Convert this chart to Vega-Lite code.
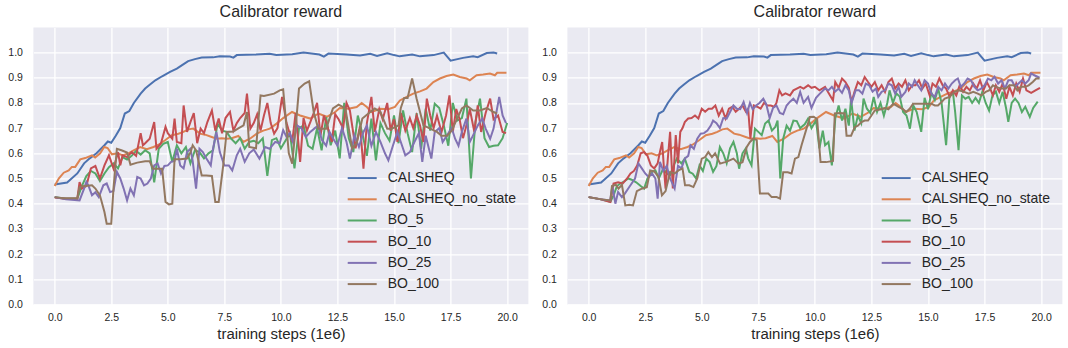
{
"$schema": "https://vega.github.io/schema/vega-lite/v6.json",
"padding": {"left": 7.4, "top": 4.4, "right": 5, "bottom": 5},
"background": "white",
"spacing": 39,
"bounds": "flush",
"config": {
  "view": {"fill": "#EAEAF2", "stroke": null},
  "axis": {"domain": false, "ticks": false, "tickSize": 0, "gridColor": "#FFFFFF", "gridWidth": 1.3, "gridOpacity": 1,
    "labelFont": "Liberation Sans", "labelFontSize": 10.5, "labelColor": "#262626",
    "titleFont": "Liberation Sans", "titleFontSize": 15, "titleColor": "#262626", "titleFontWeight": "normal"},
  "title": {"font": "Liberation Sans", "fontSize": 16, "fontWeight": "normal", "color": "#262626", "anchor": "middle", "offset": 7, "baseline": "alphabetic"},
  "legend": {"title": null, "padding": 0, "symbolType": "M-2,0H2", "symbolSize": 210, "symbolStrokeWidth": 2,
    "labelFont": "Liberation Sans", "labelFontSize": 14, "labelColor": "#262626", "labelOffset": 17, "rowPadding": 5.2}
},
"resolve": {"legend": {"color": "independent"}},
"datasets": {
"base": [
{"s":"CALSHEQ","x":0,"y":0.476},{"s":"CALSHEQ","x":0.55,"y":0.484},{"s":"CALSHEQ","x":1.0,"y":0.52},{"s":"CALSHEQ","x":1.3,"y":0.56},{"s":"CALSHEQ","x":1.55,"y":0.58},{"s":"CALSHEQ","x":1.85,"y":0.6},{"s":"CALSHEQ","x":2.2,"y":0.632},{"s":"CALSHEQ","x":2.35,"y":0.647},{"s":"CALSHEQ","x":2.5,"y":0.642},{"s":"CALSHEQ","x":2.7,"y":0.67},{"s":"CALSHEQ","x":2.9,"y":0.7},{"s":"CALSHEQ","x":3.1,"y":0.758},{"s":"CALSHEQ","x":3.3,"y":0.768},{"s":"CALSHEQ","x":3.5,"y":0.8},{"s":"CALSHEQ","x":3.8,"y":0.837},{"s":"CALSHEQ","x":4.0,"y":0.857},{"s":"CALSHEQ","x":4.2,"y":0.872},{"s":"CALSHEQ","x":4.45,"y":0.89},{"s":"CALSHEQ","x":4.75,"y":0.906},{"s":"CALSHEQ","x":5.1,"y":0.923},{"s":"CALSHEQ","x":5.4,"y":0.936},{"s":"CALSHEQ","x":5.7,"y":0.954},{"s":"CALSHEQ","x":5.9,"y":0.966},{"s":"CALSHEQ","x":6.2,"y":0.974},{"s":"CALSHEQ","x":6.5,"y":0.98},{"s":"CALSHEQ","x":7.0,"y":0.981},{"s":"CALSHEQ","x":7.3,"y":0.985},{"s":"CALSHEQ","x":7.75,"y":0.984},{"s":"CALSHEQ","x":7.9,"y":0.98},{"s":"CALSHEQ","x":8.05,"y":0.99},{"s":"CALSHEQ","x":8.9,"y":0.992},{"s":"CALSHEQ","x":9.5,"y":0.995},{"s":"CALSHEQ","x":9.8,"y":0.99},{"s":"CALSHEQ","x":10.5,"y":0.993},{"s":"CALSHEQ","x":11.0,"y":1.0},{"s":"CALSHEQ","x":11.7,"y":0.992},{"s":"CALSHEQ","x":11.9,"y":0.984},{"s":"CALSHEQ","x":12.1,"y":0.996},{"s":"CALSHEQ","x":12.9,"y":0.992},{"s":"CALSHEQ","x":13.5,"y":0.988},{"s":"CALSHEQ","x":13.95,"y":0.995},{"s":"CALSHEQ","x":14.25,"y":0.987},{"s":"CALSHEQ","x":14.7,"y":0.997},{"s":"CALSHEQ","x":15.0,"y":0.99},{"s":"CALSHEQ","x":15.25,"y":0.985},{"s":"CALSHEQ","x":15.8,"y":0.992},{"s":"CALSHEQ","x":16.15,"y":0.985},{"s":"CALSHEQ","x":16.75,"y":0.99},{"s":"CALSHEQ","x":17.2,"y":1.0},{"s":"CALSHEQ","x":17.5,"y":0.968},{"s":"CALSHEQ","x":18.05,"y":0.979},{"s":"CALSHEQ","x":18.5,"y":0.985},{"s":"CALSHEQ","x":18.7,"y":0.982},{"s":"CALSHEQ","x":19.1,"y":0.998},{"s":"CALSHEQ","x":19.4,"y":1.0},{"s":"CALSHEQ","x":19.56,"y":0.996},
{"s":"CALSHEQ_no_state","x":0,"y":0.47},{"s":"CALSHEQ_no_state","x":0.18,"y":0.5},{"s":"CALSHEQ_no_state","x":0.4,"y":0.523},{"s":"CALSHEQ_no_state","x":0.62,"y":0.532},{"s":"CALSHEQ_no_state","x":0.76,"y":0.546},{"s":"CALSHEQ_no_state","x":0.91,"y":0.546},{"s":"CALSHEQ_no_state","x":1.13,"y":0.576},{"s":"CALSHEQ_no_state","x":1.35,"y":0.581},{"s":"CALSHEQ_no_state","x":1.65,"y":0.592},{"s":"CALSHEQ_no_state","x":1.79,"y":0.583},{"s":"CALSHEQ_no_state","x":2.01,"y":0.6},{"s":"CALSHEQ_no_state","x":2.19,"y":0.625},{"s":"CALSHEQ_no_state","x":2.34,"y":0.621},{"s":"CALSHEQ_no_state","x":2.53,"y":0.596},{"s":"CALSHEQ_no_state","x":2.78,"y":0.6},{"s":"CALSHEQ_no_state","x":3.01,"y":0.592},{"s":"CALSHEQ_no_state","x":3.26,"y":0.6},{"s":"CALSHEQ_no_state","x":3.49,"y":0.612},{"s":"CALSHEQ_no_state","x":3.78,"y":0.625},{"s":"CALSHEQ_no_state","x":4.07,"y":0.616},{"s":"CALSHEQ_no_state","x":4.37,"y":0.625},{"s":"CALSHEQ_no_state","x":4.59,"y":0.634},{"s":"CALSHEQ_no_state","x":4.88,"y":0.652},{"s":"CALSHEQ_no_state","x":5.18,"y":0.672},{"s":"CALSHEQ_no_state","x":5.47,"y":0.678},{"s":"CALSHEQ_no_state","x":5.69,"y":0.685},{"s":"CALSHEQ_no_state","x":5.91,"y":0.695},{"s":"CALSHEQ_no_state","x":6.13,"y":0.698},{"s":"CALSHEQ_no_state","x":6.43,"y":0.678},{"s":"CALSHEQ_no_state","x":6.65,"y":0.674},{"s":"CALSHEQ_no_state","x":6.94,"y":0.665},{"s":"CALSHEQ_no_state","x":7.16,"y":0.658},{"s":"CALSHEQ_no_state","x":7.38,"y":0.66},{"s":"CALSHEQ_no_state","x":7.6,"y":0.658},{"s":"CALSHEQ_no_state","x":7.82,"y":0.66},{"s":"CALSHEQ_no_state","x":8.12,"y":0.669},{"s":"CALSHEQ_no_state","x":8.34,"y":0.645},{"s":"CALSHEQ_no_state","x":8.63,"y":0.658},{"s":"CALSHEQ_no_state","x":8.93,"y":0.678},{"s":"CALSHEQ_no_state","x":9.22,"y":0.69},{"s":"CALSHEQ_no_state","x":9.51,"y":0.698},{"s":"CALSHEQ_no_state","x":9.81,"y":0.718},{"s":"CALSHEQ_no_state","x":10.1,"y":0.74},{"s":"CALSHEQ_no_state","x":10.49,"y":0.764},{"s":"CALSHEQ_no_state","x":10.85,"y":0.75},{"s":"CALSHEQ_no_state","x":11.3,"y":0.738},{"s":"CALSHEQ_no_state","x":11.66,"y":0.758},{"s":"CALSHEQ_no_state","x":12.03,"y":0.745},{"s":"CALSHEQ_no_state","x":12.4,"y":0.764},{"s":"CALSHEQ_no_state","x":12.6,"y":0.78},{"s":"CALSHEQ_no_state","x":12.99,"y":0.777},{"s":"CALSHEQ_no_state","x":13.35,"y":0.784},{"s":"CALSHEQ_no_state","x":13.57,"y":0.8},{"s":"CALSHEQ_no_state","x":13.8,"y":0.784},{"s":"CALSHEQ_no_state","x":14.0,"y":0.764},{"s":"CALSHEQ_no_state","x":14.38,"y":0.777},{"s":"CALSHEQ_no_state","x":14.75,"y":0.775},{"s":"CALSHEQ_no_state","x":15.04,"y":0.784},{"s":"CALSHEQ_no_state","x":15.26,"y":0.81},{"s":"CALSHEQ_no_state","x":15.56,"y":0.824},{"s":"CALSHEQ_no_state","x":15.85,"y":0.837},{"s":"CALSHEQ_no_state","x":16.15,"y":0.846},{"s":"CALSHEQ_no_state","x":16.44,"y":0.857},{"s":"CALSHEQ_no_state","x":16.74,"y":0.883},{"s":"CALSHEQ_no_state","x":17.03,"y":0.897},{"s":"CALSHEQ_no_state","x":17.32,"y":0.907},{"s":"CALSHEQ_no_state","x":17.62,"y":0.913},{"s":"CALSHEQ_no_state","x":17.91,"y":0.903},{"s":"CALSHEQ_no_state","x":18.21,"y":0.897},{"s":"CALSHEQ_no_state","x":18.35,"y":0.89},{"s":"CALSHEQ_no_state","x":18.65,"y":0.91},{"s":"CALSHEQ_no_state","x":18.94,"y":0.913},{"s":"CALSHEQ_no_state","x":19.24,"y":0.917},{"s":"CALSHEQ_no_state","x":19.46,"y":0.91},{"s":"CALSHEQ_no_state","x":19.56,"y":0.92},{"s":"CALSHEQ_no_state","x":19.97,"y":0.92}
],
"left": [
{"s":"BO_5","x":0,"y":0.426},{"s":"BO_5","x":0.5,"y":0.42},{"s":"BO_5","x":1.0,"y":0.42},{"s":"BO_5","x":1.2,"y":0.47},{"s":"BO_5","x":1.4,"y":0.51},{"s":"BO_5","x":1.6,"y":0.53},{"s":"BO_5","x":1.8,"y":0.52},{"s":"BO_5","x":2.0,"y":0.49},{"s":"BO_5","x":2.2,"y":0.52},{"s":"BO_5","x":2.4,"y":0.545},{"s":"BO_5","x":2.6,"y":0.56},{"s":"BO_5","x":2.8,"y":0.54},{"s":"BO_5","x":3.0,"y":0.585},{"s":"BO_5","x":3.2,"y":0.575},{"s":"BO_5","x":3.4,"y":0.59},{"s":"BO_5","x":3.6,"y":0.61},{"s":"BO_5","x":3.8,"y":0.595},{"s":"BO_5","x":4.0,"y":0.612},{"s":"BO_5","x":4.2,"y":0.6},{"s":"BO_5","x":4.4,"y":0.485},{"s":"BO_5","x":4.6,"y":0.618},{"s":"BO_5","x":4.8,"y":0.638},{"s":"BO_5","x":5.0,"y":0.645},{"s":"BO_5","x":5.2,"y":0.566},{"s":"BO_5","x":5.4,"y":0.632},{"s":"BO_5","x":5.6,"y":0.6},{"s":"BO_5","x":5.8,"y":0.625},{"s":"BO_5","x":6.0,"y":0.56},{"s":"BO_5","x":6.2,"y":0.612},{"s":"BO_5","x":6.4,"y":0.605},{"s":"BO_5","x":6.6,"y":0.58},{"s":"BO_5","x":6.8,"y":0.6},{"s":"BO_5","x":7.0,"y":0.612},{"s":"BO_5","x":7.2,"y":0.718},{"s":"BO_5","x":7.4,"y":0.69},{"s":"BO_5","x":7.6,"y":0.685},{"s":"BO_5","x":7.8,"y":0.658},{"s":"BO_5","x":8.0,"y":0.64},{"s":"BO_5","x":8.2,"y":0.66},{"s":"BO_5","x":8.4,"y":0.618},{"s":"BO_5","x":8.6,"y":0.645},{"s":"BO_5","x":8.8,"y":0.65},{"s":"BO_5","x":9.0,"y":0.64},{"s":"BO_5","x":9.2,"y":0.66},{"s":"BO_5","x":9.4,"y":0.51},{"s":"BO_5","x":9.6,"y":0.652},{"s":"BO_5","x":9.8,"y":0.66},{"s":"BO_5","x":10.0,"y":0.62},{"s":"BO_5","x":10.2,"y":0.65},{"s":"BO_5","x":10.4,"y":0.68},{"s":"BO_5","x":10.6,"y":0.54},{"s":"BO_5","x":10.8,"y":0.7},{"s":"BO_5","x":11.0,"y":0.71},{"s":"BO_5","x":11.2,"y":0.63},{"s":"BO_5","x":11.4,"y":0.618},{"s":"BO_5","x":11.6,"y":0.7},{"s":"BO_5","x":11.8,"y":0.612},{"s":"BO_5","x":12.0,"y":0.744},{"s":"BO_5","x":12.2,"y":0.632},{"s":"BO_5","x":12.4,"y":0.69},{"s":"BO_5","x":12.6,"y":0.58},{"s":"BO_5","x":12.8,"y":0.8},{"s":"BO_5","x":13.0,"y":0.66},{"s":"BO_5","x":13.2,"y":0.605},{"s":"BO_5","x":13.4,"y":0.75},{"s":"BO_5","x":13.6,"y":0.68},{"s":"BO_5","x":13.8,"y":0.59},{"s":"BO_5","x":14.0,"y":0.738},{"s":"BO_5","x":14.2,"y":0.572},{"s":"BO_5","x":14.4,"y":0.72},{"s":"BO_5","x":14.6,"y":0.68},{"s":"BO_5","x":14.8,"y":0.65},{"s":"BO_5","x":15.0,"y":0.75},{"s":"BO_5","x":15.2,"y":0.64},{"s":"BO_5","x":15.4,"y":0.77},{"s":"BO_5","x":15.6,"y":0.68},{"s":"BO_5","x":15.8,"y":0.605},{"s":"BO_5","x":16.0,"y":0.76},{"s":"BO_5","x":16.2,"y":0.618},{"s":"BO_5","x":16.4,"y":0.777},{"s":"BO_5","x":16.6,"y":0.69},{"s":"BO_5","x":16.8,"y":0.797},{"s":"BO_5","x":17.0,"y":0.78},{"s":"BO_5","x":17.2,"y":0.71},{"s":"BO_5","x":17.4,"y":0.63},{"s":"BO_5","x":17.6,"y":0.8},{"s":"BO_5","x":17.8,"y":0.73},{"s":"BO_5","x":18.0,"y":0.74},{"s":"BO_5","x":18.2,"y":0.817},{"s":"BO_5","x":18.4,"y":0.5},{"s":"BO_5","x":18.6,"y":0.725},{"s":"BO_5","x":18.8,"y":0.817},{"s":"BO_5","x":19.0,"y":0.66},{"s":"BO_5","x":19.2,"y":0.625},{"s":"BO_5","x":19.4,"y":0.63},{"s":"BO_5","x":19.6,"y":0.632},{"s":"BO_5","x":19.8,"y":0.66},{"s":"BO_5","x":20.0,"y":0.72},
{"s":"BO_10","x":0,"y":0.424},{"s":"BO_10","x":0.5,"y":0.42},{"s":"BO_10","x":1.0,"y":0.42},{"s":"BO_10","x":1.1,"y":0.486},{"s":"BO_10","x":1.2,"y":0.46},{"s":"BO_10","x":1.4,"y":0.47},{"s":"BO_10","x":1.6,"y":0.54},{"s":"BO_10","x":1.8,"y":0.55},{"s":"BO_10","x":2.0,"y":0.5},{"s":"BO_10","x":2.2,"y":0.552},{"s":"BO_10","x":2.4,"y":0.592},{"s":"BO_10","x":2.6,"y":0.539},{"s":"BO_10","x":2.8,"y":0.605},{"s":"BO_10","x":2.9,"y":0.552},{"s":"BO_10","x":3.0,"y":0.592},{"s":"BO_10","x":3.2,"y":0.585},{"s":"BO_10","x":3.4,"y":0.605},{"s":"BO_10","x":3.6,"y":0.59},{"s":"BO_10","x":3.8,"y":0.68},{"s":"BO_10","x":3.9,"y":0.632},{"s":"BO_10","x":4.0,"y":0.64},{"s":"BO_10","x":4.2,"y":0.658},{"s":"BO_10","x":4.4,"y":0.724},{"s":"BO_10","x":4.5,"y":0.618},{"s":"BO_10","x":4.7,"y":0.64},{"s":"BO_10","x":4.9,"y":0.705},{"s":"BO_10","x":5.0,"y":0.68},{"s":"BO_10","x":5.2,"y":0.658},{"s":"BO_10","x":5.3,"y":0.738},{"s":"BO_10","x":5.4,"y":0.645},{"s":"BO_10","x":5.6,"y":0.64},{"s":"BO_10","x":5.7,"y":0.79},{"s":"BO_10","x":5.85,"y":0.685},{"s":"BO_10","x":6.0,"y":0.724},{"s":"BO_10","x":6.15,"y":0.76},{"s":"BO_10","x":6.3,"y":0.64},{"s":"BO_10","x":6.45,"y":0.698},{"s":"BO_10","x":6.6,"y":0.68},{"s":"BO_10","x":6.75,"y":0.724},{"s":"BO_10","x":6.95,"y":0.77},{"s":"BO_10","x":7.1,"y":0.69},{"s":"BO_10","x":7.25,"y":0.738},{"s":"BO_10","x":7.4,"y":0.68},{"s":"BO_10","x":7.55,"y":0.74},{"s":"BO_10","x":7.75,"y":0.764},{"s":"BO_10","x":7.9,"y":0.69},{"s":"BO_10","x":8.05,"y":0.72},{"s":"BO_10","x":8.2,"y":0.74},{"s":"BO_10","x":8.4,"y":0.76},{"s":"BO_10","x":8.5,"y":0.837},{"s":"BO_10","x":8.65,"y":0.698},{"s":"BO_10","x":8.8,"y":0.72},{"s":"BO_10","x":8.95,"y":0.755},{"s":"BO_10","x":9.1,"y":0.69},{"s":"BO_10","x":9.25,"y":0.75},{"s":"BO_10","x":9.4,"y":0.8},{"s":"BO_10","x":9.55,"y":0.72},{"s":"BO_10","x":9.7,"y":0.678},{"s":"BO_10","x":9.85,"y":0.7},{"s":"BO_10","x":10.05,"y":0.824},{"s":"BO_10","x":10.25,"y":0.72},{"s":"BO_10","x":10.5,"y":0.645},{"s":"BO_10","x":10.65,"y":0.76},{"s":"BO_10","x":10.85,"y":0.566},{"s":"BO_10","x":11.0,"y":0.74},{"s":"BO_10","x":11.15,"y":0.69},{"s":"BO_10","x":11.3,"y":0.724},{"s":"BO_10","x":11.45,"y":0.76},{"s":"BO_10","x":11.6,"y":0.8},{"s":"BO_10","x":11.75,"y":0.67},{"s":"BO_10","x":11.9,"y":0.75},{"s":"BO_10","x":12.05,"y":0.71},{"s":"BO_10","x":12.25,"y":0.645},{"s":"BO_10","x":12.4,"y":0.755},{"s":"BO_10","x":12.55,"y":0.735},{"s":"BO_10","x":12.75,"y":0.7},{"s":"BO_10","x":12.9,"y":0.8},{"s":"BO_10","x":13.05,"y":0.77},{"s":"BO_10","x":13.3,"y":0.62},{"s":"BO_10","x":13.5,"y":0.71},{"s":"BO_10","x":13.65,"y":0.539},{"s":"BO_10","x":13.8,"y":0.72},{"s":"BO_10","x":14.0,"y":0.824},{"s":"BO_10","x":14.15,"y":0.685},{"s":"BO_10","x":14.35,"y":0.775},{"s":"BO_10","x":14.5,"y":0.735},{"s":"BO_10","x":14.7,"y":0.8},{"s":"BO_10","x":14.85,"y":0.69},{"s":"BO_10","x":15.0,"y":0.735},{"s":"BO_10","x":15.15,"y":0.645},{"s":"BO_10","x":15.3,"y":0.76},{"s":"BO_10","x":15.5,"y":0.69},{"s":"BO_10","x":15.7,"y":0.74},{"s":"BO_10","x":15.85,"y":0.7},{"s":"BO_10","x":16.0,"y":0.75},{"s":"BO_10","x":16.15,"y":0.71},{"s":"BO_10","x":16.3,"y":0.645},{"s":"BO_10","x":16.45,"y":0.817},{"s":"BO_10","x":16.6,"y":0.75},{"s":"BO_10","x":16.75,"y":0.7},{"s":"BO_10","x":16.9,"y":0.75},{"s":"BO_10","x":17.1,"y":0.685},{"s":"BO_10","x":17.3,"y":0.75},{"s":"BO_10","x":17.45,"y":0.83},{"s":"BO_10","x":17.6,"y":0.685},{"s":"BO_10","x":17.75,"y":0.776},{"s":"BO_10","x":17.9,"y":0.735},{"s":"BO_10","x":18.05,"y":0.66},{"s":"BO_10","x":18.2,"y":0.71},{"s":"BO_10","x":18.35,"y":0.776},{"s":"BO_10","x":18.55,"y":0.685},{"s":"BO_10","x":18.7,"y":0.79},{"s":"BO_10","x":18.85,"y":0.685},{"s":"BO_10","x":19.05,"y":0.76},{"s":"BO_10","x":19.25,"y":0.817},{"s":"BO_10","x":19.4,"y":0.735},{"s":"BO_10","x":19.6,"y":0.75},{"s":"BO_10","x":19.8,"y":0.685},{"s":"BO_10","x":19.95,"y":0.68},
{"s":"BO_25","x":0,"y":0.426},{"s":"BO_25","x":0.5,"y":0.418},{"s":"BO_25","x":1.1,"y":0.413},{"s":"BO_25","x":1.3,"y":0.46},{"s":"BO_25","x":1.4,"y":0.486},{"s":"BO_25","x":1.5,"y":0.47},{"s":"BO_25","x":1.65,"y":0.433},{"s":"BO_25","x":1.8,"y":0.445},{"s":"BO_25","x":1.95,"y":0.426},{"s":"BO_25","x":2.15,"y":0.473},{"s":"BO_25","x":2.3,"y":0.48},{"s":"BO_25","x":2.45,"y":0.446},{"s":"BO_25","x":2.6,"y":0.45},{"s":"BO_25","x":2.75,"y":0.526},{"s":"BO_25","x":2.9,"y":0.5},{"s":"BO_25","x":3.05,"y":0.46},{"s":"BO_25","x":3.2,"y":0.413},{"s":"BO_25","x":3.35,"y":0.46},{"s":"BO_25","x":3.5,"y":0.433},{"s":"BO_25","x":3.65,"y":0.506},{"s":"BO_25","x":3.8,"y":0.5},{"s":"BO_25","x":3.95,"y":0.473},{"s":"BO_25","x":4.1,"y":0.48},{"s":"BO_25","x":4.25,"y":0.5},{"s":"BO_25","x":4.4,"y":0.552},{"s":"BO_25","x":4.55,"y":0.56},{"s":"BO_25","x":4.7,"y":0.52},{"s":"BO_25","x":4.85,"y":0.55},{"s":"BO_25","x":5.0,"y":0.552},{"s":"BO_25","x":5.15,"y":0.566},{"s":"BO_25","x":5.3,"y":0.57},{"s":"BO_25","x":5.4,"y":0.618},{"s":"BO_25","x":5.55,"y":0.552},{"s":"BO_25","x":5.7,"y":0.54},{"s":"BO_25","x":5.85,"y":0.605},{"s":"BO_25","x":6.0,"y":0.618},{"s":"BO_25","x":6.1,"y":0.57},{"s":"BO_25","x":6.25,"y":0.46},{"s":"BO_25","x":6.4,"y":0.618},{"s":"BO_25","x":6.55,"y":0.605},{"s":"BO_25","x":6.7,"y":0.58},{"s":"BO_25","x":6.9,"y":0.552},{"s":"BO_25","x":7.0,"y":0.618},{"s":"BO_25","x":7.15,"y":0.685},{"s":"BO_25","x":7.3,"y":0.605},{"s":"BO_25","x":7.5,"y":0.552},{"s":"BO_25","x":7.7,"y":0.552},{"s":"BO_25","x":7.85,"y":0.532},{"s":"BO_25","x":8.05,"y":0.592},{"s":"BO_25","x":8.2,"y":0.618},{"s":"BO_25","x":8.4,"y":0.566},{"s":"BO_25","x":8.6,"y":0.6},{"s":"BO_25","x":8.8,"y":0.615},{"s":"BO_25","x":9.05,"y":0.579},{"s":"BO_25","x":9.3,"y":0.625},{"s":"BO_25","x":9.5,"y":0.618},{"s":"BO_25","x":9.75,"y":0.645},{"s":"BO_25","x":9.95,"y":0.64},{"s":"BO_25","x":10.1,"y":0.692},{"s":"BO_25","x":10.25,"y":0.665},{"s":"BO_25","x":10.4,"y":0.68},{"s":"BO_25","x":10.55,"y":0.64},{"s":"BO_25","x":10.7,"y":0.712},{"s":"BO_25","x":10.9,"y":0.7},{"s":"BO_25","x":11.1,"y":0.665},{"s":"BO_25","x":11.3,"y":0.685},{"s":"BO_25","x":11.5,"y":0.7},{"s":"BO_25","x":11.65,"y":0.71},{"s":"BO_25","x":11.8,"y":0.655},{"s":"BO_25","x":12.0,"y":0.63},{"s":"BO_25","x":12.15,"y":0.685},{"s":"BO_25","x":12.3,"y":0.66},{"s":"BO_25","x":12.5,"y":0.63},{"s":"BO_25","x":12.7,"y":0.7},{"s":"BO_25","x":12.9,"y":0.645},{"s":"BO_25","x":13.05,"y":0.579},{"s":"BO_25","x":13.25,"y":0.672},{"s":"BO_25","x":13.45,"y":0.625},{"s":"BO_25","x":13.65,"y":0.685},{"s":"BO_25","x":13.8,"y":0.71},{"s":"BO_25","x":14.0,"y":0.63},{"s":"BO_25","x":14.2,"y":0.685},{"s":"BO_25","x":14.4,"y":0.645},{"s":"BO_25","x":14.6,"y":0.6},{"s":"BO_25","x":14.75,"y":0.572},{"s":"BO_25","x":14.95,"y":0.63},{"s":"BO_25","x":15.15,"y":0.685},{"s":"BO_25","x":15.3,"y":0.645},{"s":"BO_25","x":15.5,"y":0.592},{"s":"BO_25","x":15.7,"y":0.605},{"s":"BO_25","x":15.9,"y":0.645},{"s":"BO_25","x":16.1,"y":0.68},{"s":"BO_25","x":16.25,"y":0.566},{"s":"BO_25","x":16.4,"y":0.67},{"s":"BO_25","x":16.65,"y":0.579},{"s":"BO_25","x":16.8,"y":0.685},{"s":"BO_25","x":17.0,"y":0.7},{"s":"BO_25","x":17.15,"y":0.645},{"s":"BO_25","x":17.35,"y":0.672},{"s":"BO_25","x":17.55,"y":0.7},{"s":"BO_25","x":17.7,"y":0.658},{"s":"BO_25","x":17.85,"y":0.63},{"s":"BO_25","x":18.0,"y":0.685},{"s":"BO_25","x":18.2,"y":0.738},{"s":"BO_25","x":18.35,"y":0.645},{"s":"BO_25","x":18.5,"y":0.672},{"s":"BO_25","x":18.7,"y":0.71},{"s":"BO_25","x":18.9,"y":0.738},{"s":"BO_25","x":19.05,"y":0.698},{"s":"BO_25","x":19.25,"y":0.658},{"s":"BO_25","x":19.4,"y":0.698},{"s":"BO_25","x":19.5,"y":0.75},{"s":"BO_25","x":19.65,"y":0.824},{"s":"BO_25","x":19.8,"y":0.75},{"s":"BO_25","x":19.95,"y":0.72},
{"s":"BO_100","x":0,"y":0.426},{"s":"BO_100","x":0.4,"y":0.422},{"s":"BO_100","x":1.0,"y":0.422},{"s":"BO_100","x":1.1,"y":0.466},{"s":"BO_100","x":1.3,"y":0.47},{"s":"BO_100","x":1.65,"y":0.473},{"s":"BO_100","x":1.8,"y":0.46},{"s":"BO_100","x":2.0,"y":0.433},{"s":"BO_100","x":2.2,"y":0.367},{"s":"BO_100","x":2.3,"y":0.32},{"s":"BO_100","x":2.5,"y":0.32},{"s":"BO_100","x":2.6,"y":0.46},{"s":"BO_100","x":2.75,"y":0.618},{"s":"BO_100","x":2.95,"y":0.612},{"s":"BO_100","x":3.2,"y":0.603},{"s":"BO_100","x":3.35,"y":0.555},{"s":"BO_100","x":3.65,"y":0.563},{"s":"BO_100","x":4.0,"y":0.568},{"s":"BO_100","x":4.2,"y":0.568},{"s":"BO_100","x":4.35,"y":0.539},{"s":"BO_100","x":4.75,"y":0.539},{"s":"BO_100","x":4.9,"y":0.407},{"s":"BO_100","x":5.05,"y":0.397},{"s":"BO_100","x":5.2,"y":0.4},{"s":"BO_100","x":5.3,"y":0.576},{"s":"BO_100","x":5.55,"y":0.576},{"s":"BO_100","x":5.85,"y":0.579},{"s":"BO_100","x":6.0,"y":0.603},{"s":"BO_100","x":6.1,"y":0.632},{"s":"BO_100","x":6.25,"y":0.612},{"s":"BO_100","x":6.5,"y":0.512},{"s":"BO_100","x":6.7,"y":0.512},{"s":"BO_100","x":6.95,"y":0.51},{"s":"BO_100","x":7.1,"y":0.407},{"s":"BO_100","x":7.25,"y":0.407},{"s":"BO_100","x":7.45,"y":0.552},{"s":"BO_100","x":7.6,"y":0.685},{"s":"BO_100","x":7.9,"y":0.687},{"s":"BO_100","x":8.1,"y":0.698},{"s":"BO_100","x":8.35,"y":0.711},{"s":"BO_100","x":8.5,"y":0.764},{"s":"BO_100","x":8.6,"y":0.625},{"s":"BO_100","x":8.9,"y":0.62},{"s":"BO_100","x":9.1,"y":0.83},{"s":"BO_100","x":9.25,"y":0.828},{"s":"BO_100","x":9.7,"y":0.837},{"s":"BO_100","x":9.95,"y":0.85},{"s":"BO_100","x":10.1,"y":0.854},{"s":"BO_100","x":10.35,"y":0.6},{"s":"BO_100","x":10.5,"y":0.559},{"s":"BO_100","x":10.65,"y":0.7},{"s":"BO_100","x":10.8,"y":0.857},{"s":"BO_100","x":11.05,"y":0.877},{"s":"BO_100","x":11.25,"y":0.886},{"s":"BO_100","x":11.45,"y":0.764},{"s":"BO_100","x":11.65,"y":0.698},{"s":"BO_100","x":12.0,"y":0.698},{"s":"BO_100","x":12.3,"y":0.778},{"s":"BO_100","x":12.55,"y":0.793},{"s":"BO_100","x":12.85,"y":0.778},{"s":"BO_100","x":13.15,"y":0.619},{"s":"BO_100","x":13.35,"y":0.64},{"s":"BO_100","x":13.6,"y":0.738},{"s":"BO_100","x":13.95,"y":0.764},{"s":"BO_100","x":14.15,"y":0.778},{"s":"BO_100","x":14.4,"y":0.764},{"s":"BO_100","x":14.7,"y":0.698},{"s":"BO_100","x":14.9,"y":0.698},{"s":"BO_100","x":15.2,"y":0.711},{"s":"BO_100","x":15.3,"y":0.78},{"s":"BO_100","x":15.45,"y":0.82},{"s":"BO_100","x":15.6,"y":0.82},{"s":"BO_100","x":15.8,"y":0.897},{"s":"BO_100","x":16.0,"y":0.817},{"s":"BO_100","x":16.3,"y":0.711},{"s":"BO_100","x":16.6,"y":0.698},{"s":"BO_100","x":16.9,"y":0.685},{"s":"BO_100","x":17.1,"y":0.67},{"s":"BO_100","x":17.35,"y":0.67},{"s":"BO_100","x":17.55,"y":0.69},{"s":"BO_100","x":17.75,"y":0.73},{"s":"BO_100","x":18.0,"y":0.778},{"s":"BO_100","x":18.2,"y":0.79},{"s":"BO_100","x":18.5,"y":0.77},{"s":"BO_100","x":18.8,"y":0.77},{"s":"BO_100","x":19.1,"y":0.78},{"s":"BO_100","x":19.4,"y":0.764},{"s":"BO_100","x":19.55,"y":0.758}
],
"right": [
{"s":"BO_5","x":0,"y":0.426},{"s":"BO_5","x":0.5,"y":0.418},{"s":"BO_5","x":0.96,"y":0.407},{"s":"BO_5","x":1.1,"y":0.433},{"s":"BO_5","x":1.25,"y":0.47},{"s":"BO_5","x":1.4,"y":0.48},{"s":"BO_5","x":1.6,"y":0.49},{"s":"BO_5","x":1.75,"y":0.5},{"s":"BO_5","x":1.9,"y":0.495},{"s":"BO_5","x":2.1,"y":0.485},{"s":"BO_5","x":2.3,"y":0.47},{"s":"BO_5","x":2.45,"y":0.46},{"s":"BO_5","x":2.6,"y":0.5},{"s":"BO_5","x":2.8,"y":0.526},{"s":"BO_5","x":2.95,"y":0.532},{"s":"BO_5","x":3.1,"y":0.5},{"s":"BO_5","x":3.3,"y":0.54},{"s":"BO_5","x":3.45,"y":0.52},{"s":"BO_5","x":3.6,"y":0.513},{"s":"BO_5","x":3.75,"y":0.55},{"s":"BO_5","x":3.9,"y":0.579},{"s":"BO_5","x":4.1,"y":0.56},{"s":"BO_5","x":4.25,"y":0.579},{"s":"BO_5","x":4.45,"y":0.526},{"s":"BO_5","x":4.6,"y":0.519},{"s":"BO_5","x":4.75,"y":0.5},{"s":"BO_5","x":4.9,"y":0.552},{"s":"BO_5","x":5.05,"y":0.53},{"s":"BO_5","x":5.2,"y":0.579},{"s":"BO_5","x":5.35,"y":0.565},{"s":"BO_5","x":5.5,"y":0.526},{"s":"BO_5","x":5.65,"y":0.55},{"s":"BO_5","x":5.8,"y":0.625},{"s":"BO_5","x":5.95,"y":0.6},{"s":"BO_5","x":6.1,"y":0.56},{"s":"BO_5","x":6.25,"y":0.62},{"s":"BO_5","x":6.4,"y":0.645},{"s":"BO_5","x":6.55,"y":0.6},{"s":"BO_5","x":6.65,"y":0.539},{"s":"BO_5","x":6.8,"y":0.6},{"s":"BO_5","x":6.95,"y":0.62},{"s":"BO_5","x":7.05,"y":0.58},{"s":"BO_5","x":7.2,"y":0.552},{"s":"BO_5","x":7.35,"y":0.698},{"s":"BO_5","x":7.5,"y":0.685},{"s":"BO_5","x":7.65,"y":0.672},{"s":"BO_5","x":7.8,"y":0.718},{"s":"BO_5","x":7.95,"y":0.73},{"s":"BO_5","x":8.1,"y":0.69},{"s":"BO_5","x":8.25,"y":0.705},{"s":"BO_5","x":8.35,"y":0.73},{"s":"BO_5","x":8.47,"y":0.5},{"s":"BO_5","x":8.6,"y":0.658},{"s":"BO_5","x":8.75,"y":0.71},{"s":"BO_5","x":8.9,"y":0.69},{"s":"BO_5","x":9.05,"y":0.73},{"s":"BO_5","x":9.2,"y":0.728},{"s":"BO_5","x":9.35,"y":0.7},{"s":"BO_5","x":9.55,"y":0.715},{"s":"BO_5","x":9.7,"y":0.738},{"s":"BO_5","x":9.85,"y":0.7},{"s":"BO_5","x":10.05,"y":0.73},{"s":"BO_5","x":10.2,"y":0.62},{"s":"BO_5","x":10.35,"y":0.69},{"s":"BO_5","x":10.45,"y":0.632},{"s":"BO_5","x":10.6,"y":0.645},{"s":"BO_5","x":10.75,"y":0.552},{"s":"BO_5","x":10.9,"y":0.738},{"s":"BO_5","x":11.05,"y":0.79},{"s":"BO_5","x":11.2,"y":0.73},{"s":"BO_5","x":11.35,"y":0.777},{"s":"BO_5","x":11.5,"y":0.71},{"s":"BO_5","x":11.6,"y":0.817},{"s":"BO_5","x":11.75,"y":0.69},{"s":"BO_5","x":11.9,"y":0.75},{"s":"BO_5","x":12.05,"y":0.72},{"s":"BO_5","x":12.15,"y":0.817},{"s":"BO_5","x":12.3,"y":0.777},{"s":"BO_5","x":12.45,"y":0.76},{"s":"BO_5","x":12.6,"y":0.824},{"s":"BO_5","x":12.75,"y":0.765},{"s":"BO_5","x":12.9,"y":0.8},{"s":"BO_5","x":13.05,"y":0.75},{"s":"BO_5","x":13.2,"y":0.8},{"s":"BO_5","x":13.3,"y":0.85},{"s":"BO_5","x":13.45,"y":0.8},{"s":"BO_5","x":13.6,"y":0.838},{"s":"BO_5","x":13.75,"y":0.825},{"s":"BO_5","x":13.9,"y":0.764},{"s":"BO_5","x":14.05,"y":0.75},{"s":"BO_5","x":14.2,"y":0.698},{"s":"BO_5","x":14.35,"y":0.79},{"s":"BO_5","x":14.5,"y":0.764},{"s":"BO_5","x":14.7,"y":0.685},{"s":"BO_5","x":14.85,"y":0.82},{"s":"BO_5","x":15.0,"y":0.775},{"s":"BO_5","x":15.15,"y":0.84},{"s":"BO_5","x":15.3,"y":0.812},{"s":"BO_5","x":15.45,"y":0.856},{"s":"BO_5","x":15.6,"y":0.8},{"s":"BO_5","x":15.8,"y":0.632},{"s":"BO_5","x":15.95,"y":0.83},{"s":"BO_5","x":16.1,"y":0.844},{"s":"BO_5","x":16.2,"y":0.764},{"s":"BO_5","x":16.35,"y":0.612},{"s":"BO_5","x":16.5,"y":0.83},{"s":"BO_5","x":16.65,"y":0.817},{"s":"BO_5","x":16.8,"y":0.824},{"s":"BO_5","x":16.95,"y":0.8},{"s":"BO_5","x":17.1,"y":0.82},{"s":"BO_5","x":17.25,"y":0.8},{"s":"BO_5","x":17.4,"y":0.844},{"s":"BO_5","x":17.55,"y":0.8},{"s":"BO_5","x":17.7,"y":0.77},{"s":"BO_5","x":17.85,"y":0.83},{"s":"BO_5","x":18.0,"y":0.845},{"s":"BO_5","x":18.15,"y":0.8},{"s":"BO_5","x":18.3,"y":0.844},{"s":"BO_5","x":18.45,"y":0.78},{"s":"BO_5","x":18.55,"y":0.725},{"s":"BO_5","x":18.7,"y":0.8},{"s":"BO_5","x":18.85,"y":0.817},{"s":"BO_5","x":19.0,"y":0.8},{"s":"BO_5","x":19.15,"y":0.764},{"s":"BO_5","x":19.3,"y":0.785},{"s":"BO_5","x":19.5,"y":0.745},{"s":"BO_5","x":19.65,"y":0.78},{"s":"BO_5","x":19.85,"y":0.805},
{"s":"BO_10","x":0,"y":0.426},{"s":"BO_10","x":0.5,"y":0.418},{"s":"BO_10","x":0.96,"y":0.407},{"s":"BO_10","x":1.1,"y":0.48},{"s":"BO_10","x":1.3,"y":0.485},{"s":"BO_10","x":1.5,"y":0.48},{"s":"BO_10","x":1.7,"y":0.5},{"s":"BO_10","x":1.85,"y":0.52},{"s":"BO_10","x":2.0,"y":0.53},{"s":"BO_10","x":2.15,"y":0.552},{"s":"BO_10","x":2.3,"y":0.6},{"s":"BO_10","x":2.45,"y":0.605},{"s":"BO_10","x":2.6,"y":0.59},{"s":"BO_10","x":2.75,"y":0.552},{"s":"BO_10","x":2.9,"y":0.54},{"s":"BO_10","x":3.05,"y":0.56},{"s":"BO_10","x":3.15,"y":0.605},{"s":"BO_10","x":3.25,"y":0.645},{"s":"BO_10","x":3.32,"y":0.55},{"s":"BO_10","x":3.4,"y":0.46},{"s":"BO_10","x":3.5,"y":0.58},{"s":"BO_10","x":3.6,"y":0.685},{"s":"BO_10","x":3.72,"y":0.46},{"s":"BO_10","x":3.85,"y":0.672},{"s":"BO_10","x":3.95,"y":0.56},{"s":"BO_10","x":4.05,"y":0.685},{"s":"BO_10","x":4.15,"y":0.7},{"s":"BO_10","x":4.25,"y":0.724},{"s":"BO_10","x":4.4,"y":0.738},{"s":"BO_10","x":4.55,"y":0.74},{"s":"BO_10","x":4.7,"y":0.75},{"s":"BO_10","x":4.85,"y":0.738},{"s":"BO_10","x":5.0,"y":0.777},{"s":"BO_10","x":5.15,"y":0.765},{"s":"BO_10","x":5.3,"y":0.777},{"s":"BO_10","x":5.45,"y":0.777},{"s":"BO_10","x":5.6,"y":0.79},{"s":"BO_10","x":5.75,"y":0.75},{"s":"BO_10","x":5.9,"y":0.777},{"s":"BO_10","x":6.05,"y":0.738},{"s":"BO_10","x":6.2,"y":0.777},{"s":"BO_10","x":6.35,"y":0.785},{"s":"BO_10","x":6.5,"y":0.765},{"s":"BO_10","x":6.65,"y":0.777},{"s":"BO_10","x":6.8,"y":0.79},{"s":"BO_10","x":6.95,"y":0.765},{"s":"BO_10","x":7.05,"y":0.777},{"s":"BO_10","x":7.15,"y":0.658},{"s":"BO_10","x":7.3,"y":0.79},{"s":"BO_10","x":7.45,"y":0.785},{"s":"BO_10","x":7.6,"y":0.777},{"s":"BO_10","x":7.75,"y":0.8},{"s":"BO_10","x":7.9,"y":0.79},{"s":"BO_10","x":8.05,"y":0.79},{"s":"BO_10","x":8.2,"y":0.785},{"s":"BO_10","x":8.3,"y":0.8},{"s":"BO_10","x":8.43,"y":0.85},{"s":"BO_10","x":8.55,"y":0.83},{"s":"BO_10","x":8.7,"y":0.838},{"s":"BO_10","x":8.9,"y":0.83},{"s":"BO_10","x":9.05,"y":0.85},{"s":"BO_10","x":9.2,"y":0.857},{"s":"BO_10","x":9.35,"y":0.864},{"s":"BO_10","x":9.5,"y":0.857},{"s":"BO_10","x":9.7,"y":0.87},{"s":"BO_10","x":9.85,"y":0.86},{"s":"BO_10","x":10.0,"y":0.864},{"s":"BO_10","x":10.2,"y":0.85},{"s":"BO_10","x":10.45,"y":0.864},{"s":"BO_10","x":10.6,"y":0.84},{"s":"BO_10","x":10.8,"y":0.81},{"s":"BO_10","x":10.9,"y":0.883},{"s":"BO_10","x":11.05,"y":0.86},{"s":"BO_10","x":11.2,"y":0.897},{"s":"BO_10","x":11.35,"y":0.883},{"s":"BO_10","x":11.5,"y":0.86},{"s":"BO_10","x":11.62,"y":0.804},{"s":"BO_10","x":11.75,"y":0.844},{"s":"BO_10","x":11.9,"y":0.883},{"s":"BO_10","x":12.05,"y":0.87},{"s":"BO_10","x":12.2,"y":0.903},{"s":"BO_10","x":12.35,"y":0.883},{"s":"BO_10","x":12.5,"y":0.864},{"s":"BO_10","x":12.65,"y":0.883},{"s":"BO_10","x":12.8,"y":0.85},{"s":"BO_10","x":12.95,"y":0.87},{"s":"BO_10","x":13.1,"y":0.844},{"s":"BO_10","x":13.25,"y":0.883},{"s":"BO_10","x":13.4,"y":0.897},{"s":"BO_10","x":13.55,"y":0.857},{"s":"BO_10","x":13.7,"y":0.877},{"s":"BO_10","x":13.85,"y":0.864},{"s":"BO_10","x":14.0,"y":0.89},{"s":"BO_10","x":14.15,"y":0.85},{"s":"BO_10","x":14.3,"y":0.87},{"s":"BO_10","x":14.45,"y":0.87},{"s":"BO_10","x":14.6,"y":0.89},{"s":"BO_10","x":14.75,"y":0.857},{"s":"BO_10","x":14.9,"y":0.877},{"s":"BO_10","x":15.07,"y":0.83},{"s":"BO_10","x":15.2,"y":0.877},{"s":"BO_10","x":15.35,"y":0.864},{"s":"BO_10","x":15.5,"y":0.897},{"s":"BO_10","x":15.65,"y":0.87},{"s":"BO_10","x":15.8,"y":0.857},{"s":"BO_10","x":15.96,"y":0.824},{"s":"BO_10","x":16.1,"y":0.85},{"s":"BO_10","x":16.25,"y":0.83},{"s":"BO_10","x":16.4,"y":0.87},{"s":"BO_10","x":16.55,"y":0.844},{"s":"BO_10","x":16.7,"y":0.864},{"s":"BO_10","x":16.85,"y":0.85},{"s":"BO_10","x":17.0,"y":0.877},{"s":"BO_10","x":17.15,"y":0.857},{"s":"BO_10","x":17.3,"y":0.89},{"s":"BO_10","x":17.45,"y":0.85},{"s":"BO_10","x":17.6,"y":0.883},{"s":"BO_10","x":17.75,"y":0.857},{"s":"BO_10","x":17.87,"y":0.83},{"s":"BO_10","x":18.0,"y":0.87},{"s":"BO_10","x":18.15,"y":0.844},{"s":"BO_10","x":18.3,"y":0.877},{"s":"BO_10","x":18.46,"y":0.817},{"s":"BO_10","x":18.6,"y":0.864},{"s":"BO_10","x":18.75,"y":0.83},{"s":"BO_10","x":18.9,"y":0.877},{"s":"BO_10","x":19.05,"y":0.844},{"s":"BO_10","x":19.2,"y":0.897},{"s":"BO_10","x":19.35,"y":0.85},{"s":"BO_10","x":19.56,"y":0.84},{"s":"BO_10","x":19.75,"y":0.85},{"s":"BO_10","x":19.95,"y":0.86},
{"s":"BO_25","x":0,"y":0.426},{"s":"BO_25","x":0.5,"y":0.418},{"s":"BO_25","x":0.95,"y":0.413},{"s":"BO_25","x":1.05,"y":0.47},{"s":"BO_25","x":1.18,"y":0.4},{"s":"BO_25","x":1.3,"y":0.446},{"s":"BO_25","x":1.47,"y":0.426},{"s":"BO_25","x":1.6,"y":0.44},{"s":"BO_25","x":1.75,"y":0.46},{"s":"BO_25","x":1.9,"y":0.48},{"s":"BO_25","x":2.05,"y":0.5},{"s":"BO_25","x":2.2,"y":0.56},{"s":"BO_25","x":2.35,"y":0.54},{"s":"BO_25","x":2.5,"y":0.52},{"s":"BO_25","x":2.65,"y":0.506},{"s":"BO_25","x":2.8,"y":0.52},{"s":"BO_25","x":2.95,"y":0.5},{"s":"BO_25","x":3.05,"y":0.42},{"s":"BO_25","x":3.15,"y":0.566},{"s":"BO_25","x":3.3,"y":0.53},{"s":"BO_25","x":3.45,"y":0.55},{"s":"BO_25","x":3.6,"y":0.5},{"s":"BO_25","x":3.8,"y":0.46},{"s":"BO_25","x":3.95,"y":0.55},{"s":"BO_25","x":4.1,"y":0.54},{"s":"BO_25","x":4.25,"y":0.579},{"s":"BO_25","x":4.4,"y":0.59},{"s":"BO_25","x":4.5,"y":0.632},{"s":"BO_25","x":4.65,"y":0.618},{"s":"BO_25","x":4.8,"y":0.658},{"s":"BO_25","x":4.95,"y":0.678},{"s":"BO_25","x":5.1,"y":0.68},{"s":"BO_25","x":5.25,"y":0.69},{"s":"BO_25","x":5.4,"y":0.71},{"s":"BO_25","x":5.5,"y":0.73},{"s":"BO_25","x":5.65,"y":0.72},{"s":"BO_25","x":5.8,"y":0.7},{"s":"BO_25","x":5.95,"y":0.74},{"s":"BO_25","x":6.1,"y":0.738},{"s":"BO_25","x":6.25,"y":0.764},{"s":"BO_25","x":6.4,"y":0.79},{"s":"BO_25","x":6.55,"y":0.777},{"s":"BO_25","x":6.7,"y":0.775},{"s":"BO_25","x":6.85,"y":0.804},{"s":"BO_25","x":7.0,"y":0.76},{"s":"BO_25","x":7.13,"y":0.8},{"s":"BO_25","x":7.25,"y":0.775},{"s":"BO_25","x":7.4,"y":0.79},{"s":"BO_25","x":7.55,"y":0.8},{"s":"BO_25","x":7.72,"y":0.817},{"s":"BO_25","x":7.85,"y":0.795},{"s":"BO_25","x":8.0,"y":0.74},{"s":"BO_25","x":8.15,"y":0.78},{"s":"BO_25","x":8.3,"y":0.79},{"s":"BO_25","x":8.45,"y":0.76},{"s":"BO_25","x":8.6,"y":0.755},{"s":"BO_25","x":8.75,"y":0.79},{"s":"BO_25","x":8.9,"y":0.805},{"s":"BO_25","x":9.05,"y":0.817},{"s":"BO_25","x":9.2,"y":0.8},{"s":"BO_25","x":9.35,"y":0.844},{"s":"BO_25","x":9.5,"y":0.8},{"s":"BO_25","x":9.7,"y":0.824},{"s":"BO_25","x":9.85,"y":0.78},{"s":"BO_25","x":10.05,"y":0.82},{"s":"BO_25","x":10.2,"y":0.835},{"s":"BO_25","x":10.45,"y":0.857},{"s":"BO_25","x":10.6,"y":0.85},{"s":"BO_25","x":10.75,"y":0.864},{"s":"BO_25","x":10.9,"y":0.845},{"s":"BO_25","x":11.05,"y":0.857},{"s":"BO_25","x":11.2,"y":0.84},{"s":"BO_25","x":11.35,"y":0.87},{"s":"BO_25","x":11.5,"y":0.85},{"s":"BO_25","x":11.62,"y":0.8},{"s":"BO_25","x":11.8,"y":0.85},{"s":"BO_25","x":11.95,"y":0.85},{"s":"BO_25","x":12.1,"y":0.837},{"s":"BO_25","x":12.25,"y":0.877},{"s":"BO_25","x":12.4,"y":0.87},{"s":"BO_25","x":12.55,"y":0.845},{"s":"BO_25","x":12.7,"y":0.857},{"s":"BO_25","x":12.8,"y":0.824},{"s":"BO_25","x":12.95,"y":0.844},{"s":"BO_25","x":13.1,"y":0.85},{"s":"BO_25","x":13.25,"y":0.877},{"s":"BO_25","x":13.4,"y":0.87},{"s":"BO_25","x":13.55,"y":0.837},{"s":"BO_25","x":13.7,"y":0.864},{"s":"BO_25","x":13.82,"y":0.824},{"s":"BO_25","x":14.0,"y":0.844},{"s":"BO_25","x":14.15,"y":0.877},{"s":"BO_25","x":14.3,"y":0.864},{"s":"BO_25","x":14.41,"y":0.89},{"s":"BO_25","x":14.55,"y":0.87},{"s":"BO_25","x":14.7,"y":0.85},{"s":"BO_25","x":14.85,"y":0.89},{"s":"BO_25","x":15.0,"y":0.877},{"s":"BO_25","x":15.15,"y":0.837},{"s":"BO_25","x":15.3,"y":0.824},{"s":"BO_25","x":15.45,"y":0.864},{"s":"BO_25","x":15.6,"y":0.85},{"s":"BO_25","x":15.75,"y":0.877},{"s":"BO_25","x":15.9,"y":0.857},{"s":"BO_25","x":16.05,"y":0.877},{"s":"BO_25","x":16.2,"y":0.89},{"s":"BO_25","x":16.32,"y":0.897},{"s":"BO_25","x":16.45,"y":0.864},{"s":"BO_25","x":16.6,"y":0.877},{"s":"BO_25","x":16.75,"y":0.897},{"s":"BO_25","x":16.9,"y":0.89},{"s":"BO_25","x":17.05,"y":0.864},{"s":"BO_25","x":17.2,"y":0.85},{"s":"BO_25","x":17.35,"y":0.857},{"s":"BO_25","x":17.5,"y":0.87},{"s":"BO_25","x":17.65,"y":0.897},{"s":"BO_25","x":17.8,"y":0.89},{"s":"BO_25","x":17.94,"y":0.904},{"s":"BO_25","x":18.1,"y":0.877},{"s":"BO_25","x":18.25,"y":0.89},{"s":"BO_25","x":18.4,"y":0.857},{"s":"BO_25","x":18.55,"y":0.89},{"s":"BO_25","x":18.7,"y":0.89},{"s":"BO_25","x":18.85,"y":0.864},{"s":"BO_25","x":19.0,"y":0.877},{"s":"BO_25","x":19.15,"y":0.89},{"s":"BO_25","x":19.3,"y":0.877},{"s":"BO_25","x":19.45,"y":0.89},{"s":"BO_25","x":19.56,"y":0.917},{"s":"BO_25","x":19.7,"y":0.91},{"s":"BO_25","x":19.93,"y":0.9},
{"s":"BO_100","x":0,"y":0.426},{"s":"BO_100","x":0.5,"y":0.418},{"s":"BO_100","x":0.96,"y":0.413},{"s":"BO_100","x":1.03,"y":0.47},{"s":"BO_100","x":1.2,"y":0.475},{"s":"BO_100","x":1.32,"y":0.46},{"s":"BO_100","x":1.47,"y":0.475},{"s":"BO_100","x":1.62,"y":0.393},{"s":"BO_100","x":1.8,"y":0.396},{"s":"BO_100","x":1.96,"y":0.393},{"s":"BO_100","x":2.13,"y":0.45},{"s":"BO_100","x":2.3,"y":0.458},{"s":"BO_100","x":2.45,"y":0.462},{"s":"BO_100","x":2.57,"y":0.465},{"s":"BO_100","x":2.72,"y":0.532},{"s":"BO_100","x":2.9,"y":0.528},{"s":"BO_100","x":3.09,"y":0.506},{"s":"BO_100","x":3.24,"y":0.433},{"s":"BO_100","x":3.4,"y":0.45},{"s":"BO_100","x":3.6,"y":0.526},{"s":"BO_100","x":3.8,"y":0.52},{"s":"BO_100","x":3.97,"y":0.532},{"s":"BO_100","x":4.15,"y":0.54},{"s":"BO_100","x":4.26,"y":0.473},{"s":"BO_100","x":4.45,"y":0.473},{"s":"BO_100","x":4.63,"y":0.466},{"s":"BO_100","x":4.8,"y":0.5},{"s":"BO_100","x":5.0,"y":0.579},{"s":"BO_100","x":5.15,"y":0.585},{"s":"BO_100","x":5.29,"y":0.605},{"s":"BO_100","x":5.45,"y":0.585},{"s":"BO_100","x":5.59,"y":0.6},{"s":"BO_100","x":5.81,"y":0.559},{"s":"BO_100","x":6.03,"y":0.565},{"s":"BO_100","x":6.18,"y":0.57},{"s":"BO_100","x":6.4,"y":0.579},{"s":"BO_100","x":6.62,"y":0.559},{"s":"BO_100","x":6.8,"y":0.565},{"s":"BO_100","x":6.99,"y":0.625},{"s":"BO_100","x":7.13,"y":0.645},{"s":"BO_100","x":7.28,"y":0.658},{"s":"BO_100","x":7.43,"y":0.652},{"s":"BO_100","x":7.57,"y":0.44},{"s":"BO_100","x":7.79,"y":0.44},{"s":"BO_100","x":7.94,"y":0.44},{"s":"BO_100","x":8.09,"y":0.426},{"s":"BO_100","x":8.31,"y":0.426},{"s":"BO_100","x":8.46,"y":0.42},{"s":"BO_100","x":8.6,"y":0.525},{"s":"BO_100","x":8.8,"y":0.525},{"s":"BO_100","x":8.97,"y":0.52},{"s":"BO_100","x":9.12,"y":0.579},{"s":"BO_100","x":9.27,"y":0.585},{"s":"BO_100","x":9.41,"y":0.632},{"s":"BO_100","x":9.63,"y":0.698},{"s":"BO_100","x":9.78,"y":0.744},{"s":"BO_100","x":9.95,"y":0.745},{"s":"BO_100","x":10.1,"y":0.735},{"s":"BO_100","x":10.25,"y":0.565},{"s":"BO_100","x":10.5,"y":0.565},{"s":"BO_100","x":10.8,"y":0.57},{"s":"BO_100","x":10.88,"y":0.758},{"s":"BO_100","x":11.1,"y":0.76},{"s":"BO_100","x":11.32,"y":0.758},{"s":"BO_100","x":11.4,"y":0.67},{"s":"BO_100","x":11.6,"y":0.67},{"s":"BO_100","x":11.76,"y":0.704},{"s":"BO_100","x":11.9,"y":0.71},{"s":"BO_100","x":12.06,"y":0.724},{"s":"BO_100","x":12.2,"y":0.73},{"s":"BO_100","x":12.35,"y":0.73},{"s":"BO_100","x":12.5,"y":0.75},{"s":"BO_100","x":12.65,"y":0.77},{"s":"BO_100","x":12.94,"y":0.775},{"s":"BO_100","x":13.1,"y":0.78},{"s":"BO_100","x":13.25,"y":0.775},{"s":"BO_100","x":13.46,"y":0.797},{"s":"BO_100","x":13.7,"y":0.784},{"s":"BO_100","x":13.85,"y":0.778},{"s":"BO_100","x":14.04,"y":0.764},{"s":"BO_100","x":14.2,"y":0.778},{"s":"BO_100","x":14.34,"y":0.797},{"s":"BO_100","x":14.6,"y":0.797},{"s":"BO_100","x":14.9,"y":0.797},{"s":"BO_100","x":15.15,"y":0.797},{"s":"BO_100","x":15.3,"y":0.79},{"s":"BO_100","x":15.44,"y":0.79},{"s":"BO_100","x":15.6,"y":0.804},{"s":"BO_100","x":15.74,"y":0.817},{"s":"BO_100","x":15.95,"y":0.824},{"s":"BO_100","x":16.18,"y":0.844},{"s":"BO_100","x":16.35,"y":0.85},{"s":"BO_100","x":16.6,"y":0.844},{"s":"BO_100","x":16.8,"y":0.837},{"s":"BO_100","x":17.0,"y":0.844},{"s":"BO_100","x":17.2,"y":0.837},{"s":"BO_100","x":17.35,"y":0.83},{"s":"BO_100","x":17.55,"y":0.844},{"s":"BO_100","x":17.7,"y":0.85},{"s":"BO_100","x":17.87,"y":0.87},{"s":"BO_100","x":18.0,"y":0.864},{"s":"BO_100","x":18.24,"y":0.857},{"s":"BO_100","x":18.45,"y":0.857},{"s":"BO_100","x":18.6,"y":0.87},{"s":"BO_100","x":18.8,"y":0.87},{"s":"BO_100","x":18.95,"y":0.85},{"s":"BO_100","x":19.1,"y":0.864},{"s":"BO_100","x":19.3,"y":0.864},{"s":"BO_100","x":19.45,"y":0.87},{"s":"BO_100","x":19.63,"y":0.883},{"s":"BO_100","x":19.78,"y":0.897},{"s":"BO_100","x":19.93,"y":0.897}
]
},
"hconcat": [
{
  "width": 495, "height": 277,
  "title": {"text": "Calibrator reward"},
  "encoding": {
    "x": {"field": "x", "type": "quantitative", "scale": {"domain": [-0.94, 20.94], "nice": false, "zero": false},
      "axis": {"title": "training steps (1e6)", "values": [0, 2.5, 5, 7.5, 10, 12.5, 15, 17.5, 20], "format": ".1f", "labelPadding": 16.5, "labelBaseline": "alphabetic", "titleBaseline": "alphabetic", "titleY": 34}},
    "y": {"field": "y", "type": "quantitative", "scale": {"domain": [0, 1.1], "nice": false, "zero": false},
      "axis": {"title": null, "values": [0, 0.1, 0.2, 0.3, 0.4, 0.5, 0.6, 0.7, 0.8, 0.9, 1.0], "format": ".1f", "labelPadding": 11}},
    "color": {"field": "s", "type": "nominal",
      "scale": {"domain": ["CALSHEQ", "CALSHEQ_no_state", "BO_5", "BO_10", "BO_25", "BO_100"], "range": ["#4C72B0", "#DD8452", "#55A868", "#C44E52", "#8172B3", "#937860"]},
      "legend": {"orient": "none", "legendX": 320.3, "legendY": 142.2}}
  },
  "layer": [
    {"data": {"name": "base"}, "mark": {"type": "line", "strokeWidth": 2}},
    {"data": {"name": "left"}, "mark": {"type": "line", "strokeWidth": 2}}
  ]
},
{
  "width": 495, "height": 277,
  "title": {"text": "Calibrator reward"},
  "encoding": {
    "x": {"field": "x", "type": "quantitative", "scale": {"domain": [-0.94, 20.94], "nice": false, "zero": false},
      "axis": {"title": "training steps (1e6)", "values": [0, 2.5, 5, 7.5, 10, 12.5, 15, 17.5, 20], "format": ".1f", "labelPadding": 16.5, "labelBaseline": "alphabetic", "titleBaseline": "alphabetic", "titleY": 34}},
    "y": {"field": "y", "type": "quantitative", "scale": {"domain": [0, 1.1], "nice": false, "zero": false},
      "axis": {"title": null, "values": [0, 0.1, 0.2, 0.3, 0.4, 0.5, 0.6, 0.7, 0.8, 0.9, 1.0], "format": ".1f", "labelPadding": 11}},
    "color": {"field": "s", "type": "nominal",
      "scale": {"domain": ["CALSHEQ", "CALSHEQ_no_state", "BO_5", "BO_10", "BO_25", "BO_100"], "range": ["#4C72B0", "#DD8452", "#55A868", "#C44E52", "#8172B3", "#937860"]},
      "legend": {"orient": "none", "legendX": 320.3, "legendY": 142.2}}
  },
  "layer": [
    {"data": {"name": "base"}, "mark": {"type": "line", "strokeWidth": 2}},
    {"data": {"name": "right"}, "mark": {"type": "line", "strokeWidth": 2}}
  ]
}
]
}
